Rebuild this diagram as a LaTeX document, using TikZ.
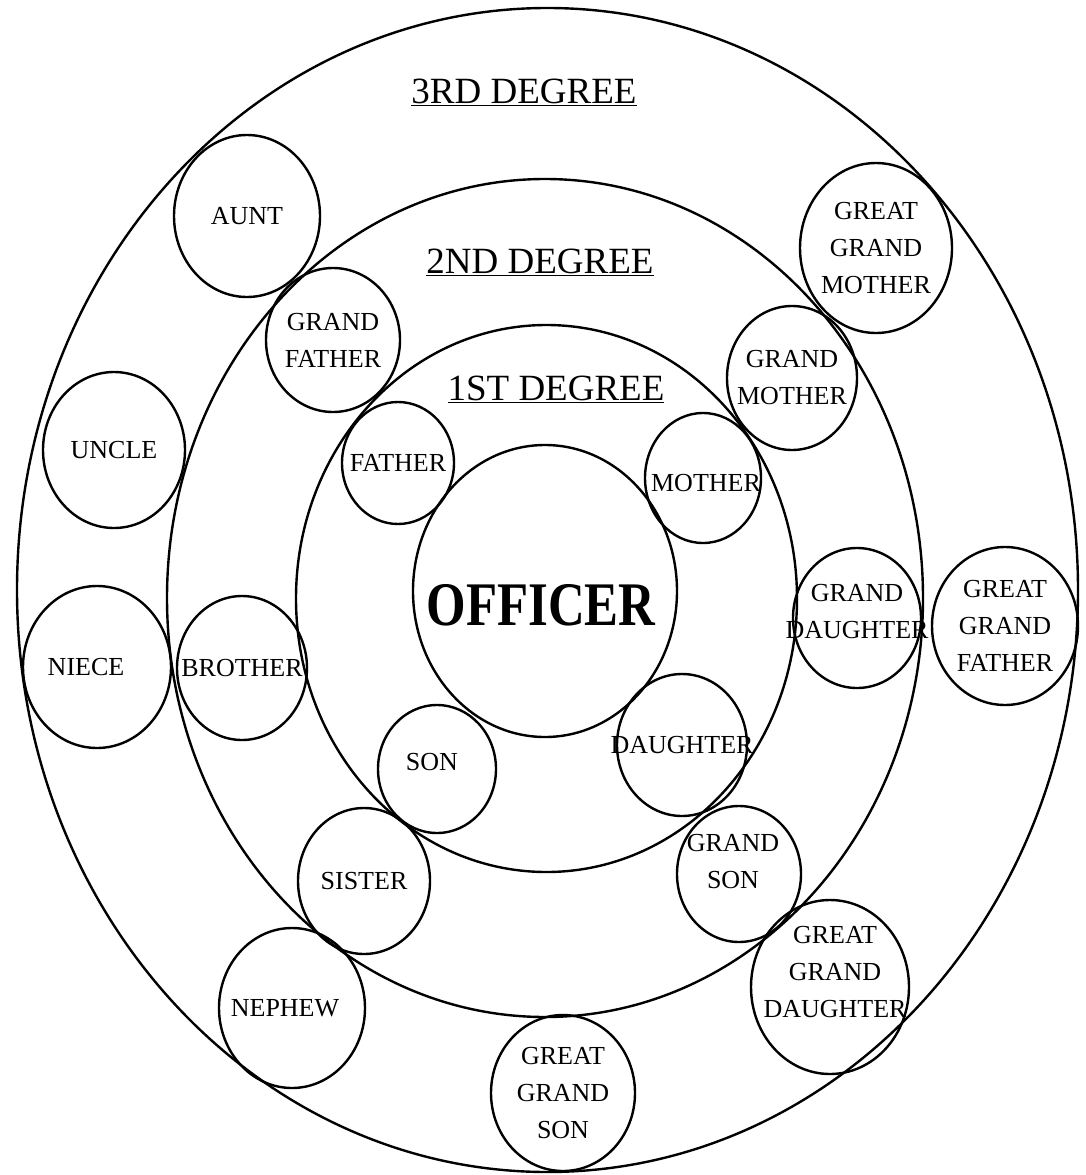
\documentclass[tikz,border=0pt]{standalone}
\usepackage{fontspec}
\setmainfont{Liberation Serif}
\usetikzlibrary{shapes.geometric}

\begin{document}
\begin{tikzpicture}[x=1pt,y=-1pt,
  ring/.style={draw,ellipse,line width=2.4pt,inner sep=0pt},
  kin/.style={draw,ellipse,line width=2.4pt,inner sep=0pt},
  kinname/.style={align=center,inner sep=0pt,font=\fontsize{26}{37}\selectfont},
  degree/.style={anchor=base,inner sep=0pt,font=\fontsize{37}{37}\selectfont}]
  \useasboundingbox (0,0) rectangle (1086,1175);

  % degree rings
  \node[ring,minimum width=1061pt,minimum height=1164pt] (third) at (547.5,590) {};
  \node[ring,minimum width=756pt,minimum height=838pt] (second) at (545,598) {};
  \node[ring,minimum width=501pt,minimum height=547pt] (first) at (546.5,598.5) {};
  \node[ring,minimum width=264pt,minimum height=292pt] (officer) at (545,591) {};

  \node[degree] (deg3) at (524,103) {\underline{3RD DEGREE}};
  \node[degree] (deg2) at (540,273) {\underline{2ND DEGREE}};
  \node[degree] (deg1) at (556,400) {\underline{1ST DEGREE}};
  \node[anchor=base,inner sep=0pt,font=\fontsize{62}{62}\selectfont\bfseries] (officer-t) at (541,625) {\scalebox{0.82}[1]{OFFICER}};

  % 1st degree
  \node[kin,minimum width=112pt,minimum height=122pt] (father) at (398,463) {};
  \node[kin,minimum width=116pt,minimum height=130pt] (mother) at (703,478) {};
  \node[kin,minimum width=118pt,minimum height=128pt] (son) at (437,769) {};
  \node[kin,minimum width=130pt,minimum height=142pt] (daughter) at (682,745) {};
  \node[kinname] (father-t) at (father) {FATHER};
  \node[kinname,xshift=3pt,yshift=-5pt] (mother-t) at (mother) {MOTHER};
  \node[kinname,xshift=-5pt,yshift=7pt] (son-t) at (son) {SON};
  \node[kinname] (daughter-t) at (daughter) {DAUGHTER};

  % 2nd degree
  \node[kin,minimum width=134pt,minimum height=144pt] (gfather) at (333,340) {};
  \node[kin,minimum width=130pt,minimum height=144pt] (gmother) at (792,378) {};
  \node[kin,minimum width=130pt,minimum height=144pt] (brother) at (242,668) {};
  \node[kin,minimum width=132pt,minimum height=146pt] (sister) at (364,881) {};
  \node[kin,minimum width=128pt,minimum height=140pt] (gdaughter) at (857,618) {};
  \node[kin,minimum width=124pt,minimum height=136pt] (gson) at (739,874) {};
  \node[kinname] (gfather-t) at (gfather) {GRAND\\FATHER};
  \node[kinname] (gmother-t) at (gmother) {GRAND\\MOTHER};
  \node[kinname] (brother-t) at (brother) {BROTHER};
  \node[kinname] (sister-t) at (sister) {SISTER};
  \node[kinname,yshift=6pt] (gdaughter-t) at (gdaughter) {GRAND\\DAUGHTER};
  \node[kinname,xshift=-6pt,yshift=12pt] (gson-t) at (gson) {GRAND\\SON};

  % 3rd degree
  \node[kin,minimum width=146pt,minimum height=162pt] (aunt) at (247,216) {};
  \node[kin,minimum width=142pt,minimum height=156pt] (uncle) at (114,450) {};
  \node[kin,minimum width=148pt,minimum height=162pt] (niece) at (97,667) {};
  \node[kin,minimum width=146pt,minimum height=160pt] (nephew) at (292,1008) {};
  \node[kin,minimum width=152pt,minimum height=170pt] (ggmother) at (876,248) {};
  \node[kin,minimum width=146pt,minimum height=158pt] (ggfather) at (1005,626) {};
  \node[kin,minimum width=158pt,minimum height=174pt] (ggdaughter) at (830,987) {};
  \node[kin,minimum width=144pt,minimum height=156pt] (ggson) at (563,1093) {};
  \node[kinname] (aunt-t) at (aunt) {AUNT};
  \node[kinname] (uncle-t) at (uncle) {UNCLE};
  \node[kinname,xshift=-11pt] (niece-t) at (niece) {NIECE};
  \node[kinname,xshift=-7pt] (nephew-t) at (nephew) {NEPHEW};
  \node[kinname] (ggmother-t) at (ggmother) {GREAT\\GRAND\\MOTHER};
  \node[kinname] (ggfather-t) at (ggfather) {GREAT\\GRAND\\FATHER};
  \node[kinname,xshift=5pt,yshift=15pt] (ggdaughter-t) at (ggdaughter) {GREAT\\GRAND\\DAUGHTER};
  \node[kinname] (ggson-t) at (ggson) {GREAT\\GRAND\\SON};
\end{tikzpicture}
\end{document}
